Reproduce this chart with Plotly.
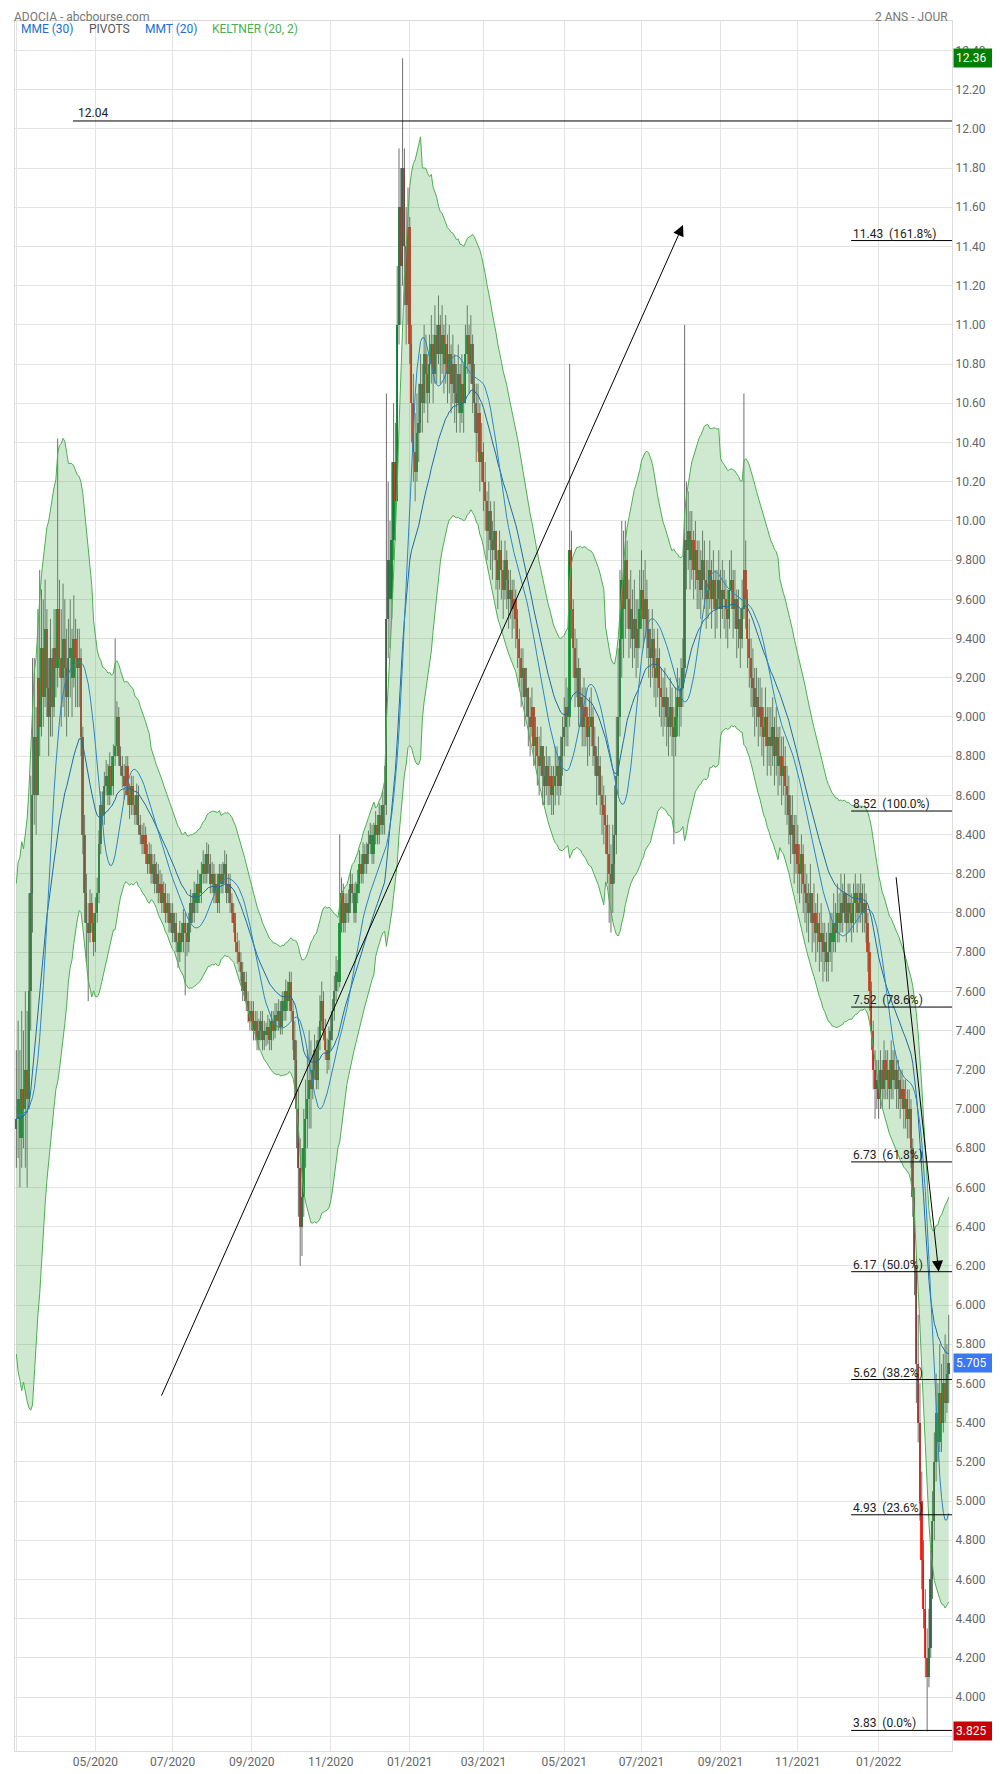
import numpy as np
import pandas as pd
import plotly.graph_objects as go

# ---------------- data (daily, one row = one week Mon..Fri) ----------------
first_open = 6.90
close = [
    6.95, 7.05, 6.85, 7.10, 7.00,
    7.20, 7.05, 7.60, 8.10, 8.60,
    8.90, 8.60, 9.20, 8.95, 9.35,
    9.10, 9.45, 9.15, 9.00, 9.30,
    9.05, 9.35, 9.25, 9.55, 9.30,
    9.20, 9.40, 9.25, 9.10, 9.30,
    9.35, 9.20, 9.40, 9.30, 9.25,
    9.30, 8.90, 8.40, 8.10, 7.95,
    7.90, 8.05, 7.95, 7.85, 8.00,
    8.10, 8.35, 8.55, 8.50, 8.65,
    8.70, 8.60, 8.75, 8.65, 8.80,
    8.85, 9.00, 8.80, 8.75, 8.70,
    8.65, 8.75, 8.60, 8.55, 8.65,
    8.55, 8.50, 8.60, 8.45, 8.40,
    8.35, 8.40, 8.30, 8.25, 8.30,
    8.20, 8.25, 8.15, 8.20, 8.10,
    8.15, 8.05, 8.10, 8.00, 8.05,
    7.95, 8.00, 7.90, 7.95, 7.85,
    7.80, 7.90, 7.85, 7.95, 7.90,
    7.85, 7.95, 8.05, 8.00, 8.10,
    8.05, 8.15, 8.10, 8.20, 8.25,
    8.20, 8.30, 8.25, 8.15, 8.20,
    8.10, 8.15, 8.05, 8.20, 8.15,
    8.20, 8.25, 8.10, 8.15, 8.05,
    8.00, 7.95, 7.85, 7.80, 7.75,
    7.70, 7.60, 7.65, 7.55, 7.50,
    7.45, 7.50, 7.40, 7.45, 7.35,
    7.40, 7.45, 7.35, 7.40, 7.38,
    7.42, 7.35, 7.45, 7.40, 7.48,
    7.45, 7.50, 7.42, 7.55, 7.50,
    7.60, 7.55, 7.65, 7.50, 7.35,
    7.25, 7.00, 6.70, 6.40, 6.55,
    6.80, 6.95, 7.05, 7.15, 7.10,
    7.20, 7.30, 7.15, 7.35, 7.45,
    7.55, 7.40, 7.30, 7.25, 7.35,
    7.40, 7.50, 7.60, 7.70, 7.65,
    7.95, 8.10, 7.95, 8.05, 8.00,
    8.05, 8.15, 8.10, 8.00, 8.10,
    8.15, 8.25, 8.20, 8.30, 8.25,
    8.30, 8.35, 8.40, 8.30, 8.40,
    8.45, 8.40, 8.50, 8.45, 8.55,
    8.55, 9.50, 9.80, 9.60, 9.90,
    10.30, 10.10, 11.00, 11.60, 11.30,
    11.80, 11.40, 11.10, 11.50, 10.90,
    10.60, 10.35, 10.25, 10.45, 10.50,
    10.70, 10.60, 10.85, 10.75, 10.65,
    10.80, 10.90, 10.75, 10.95, 10.85,
    11.00, 10.85, 10.95, 10.80, 10.90,
    10.75, 10.85, 10.70, 10.80, 10.65,
    10.60, 10.75, 10.55, 10.70, 10.60,
    10.85, 10.95, 10.80, 10.90, 10.70,
    10.60, 10.45, 10.55, 10.30, 10.35,
    10.20, 10.10, 9.95, 10.05, 9.90,
    9.85, 9.95, 9.80, 9.70, 9.85,
    9.75, 9.65, 9.80, 9.70, 9.60,
    9.65, 9.55, 9.60, 9.50, 9.40,
    9.30, 9.20, 9.25, 9.10, 9.15,
    9.00, 8.95, 9.05, 8.85, 8.90,
    8.80, 8.75, 8.85, 8.70, 8.65,
    8.75, 8.65, 8.70, 8.60, 8.65,
    8.70, 8.75, 8.65, 8.80, 8.90,
    8.95, 9.05, 9.00, 9.85, 9.55,
    9.35, 9.20, 9.25, 9.05, 9.10,
    8.95, 9.05, 9.00, 8.90, 8.95,
    9.00, 8.85, 8.80, 8.70, 8.75,
    8.60, 8.55, 8.50, 8.45, 8.30,
    8.20, 8.15, 8.25, 8.40, 8.70,
    9.00, 9.40, 9.70, 9.55, 9.80,
    9.60, 9.45, 9.55, 9.40, 9.50,
    9.35, 9.45, 9.55, 9.65, 9.50,
    9.60, 9.45, 9.35, 9.30, 9.40,
    9.25, 9.20, 9.30, 9.15, 9.10,
    9.05, 9.10, 9.00, 8.95, 9.05,
    8.95, 8.90, 9.00, 9.10, 9.05,
    9.15, 9.25, 9.90, 9.85, 9.95,
    9.80, 9.90, 9.75, 9.85, 9.70,
    9.75, 9.65, 9.80, 9.70, 9.60,
    9.65, 9.75, 9.60, 9.70, 9.55,
    9.60, 9.70, 9.55, 9.65, 9.60,
    9.55, 9.50, 9.65, 9.70, 9.55,
    9.60, 9.45, 9.50, 9.40, 9.55,
    9.75, 9.60, 9.40, 9.30, 9.20,
    9.15, 9.05, 9.10, 9.00, 9.05,
    8.95, 8.90, 9.00, 8.85, 8.90,
    8.85, 8.95, 8.80, 8.90, 8.75,
    8.80, 8.70, 8.75, 8.65, 8.60,
    8.50, 8.40, 8.45, 8.30, 8.35,
    8.25, 8.20, 8.30, 8.15, 8.10,
    8.05, 8.00, 8.10, 7.95, 8.00,
    7.90, 7.95, 7.85, 7.90, 7.80,
    7.85, 7.75, 7.80, 7.90, 7.85,
    7.95, 7.90, 8.00, 7.95, 8.05,
    8.00, 8.10, 7.95, 8.05, 8.00,
    7.95, 8.05, 8.10, 8.00, 8.05,
    8.10, 8.00, 8.05, 7.95, 7.80,
    7.60, 7.40, 7.20, 7.10, 7.15,
    7.05, 7.20, 7.10, 7.25, 7.15,
    7.20, 7.10, 7.25, 7.15, 7.20,
    7.10, 7.15, 7.05, 7.10, 7.00,
    7.05, 6.95, 7.00, 6.80, 6.55,
    6.20, 5.70, 5.40, 5.00, 4.70,
    4.45, 4.20, 4.10, 4.25, 4.60,
    4.90, 5.20, 5.45, 5.30, 5.55,
    5.40, 5.60, 5.50, 5.65, 5.705,
]
high = [
    7.30, 7.45, 7.30, 7.50, 7.40,
    7.60, 7.50, 8.10, 8.70, 9.30,
    9.30, 9.05, 9.55, 9.75, 9.65,
    9.60, 9.70, 9.55, 9.30, 9.50,
    9.35, 9.55, 9.55, 10.42, 9.70,
    9.55, 9.68, 9.60, 9.45, 9.50,
    9.60, 9.45, 9.62, 9.50, 9.45,
    9.45, 9.35, 8.95, 8.50, 8.20,
    8.05, 8.12, 8.10, 8.00, 8.08,
    8.18, 8.42, 8.62, 8.62, 8.72,
    8.78, 8.76, 8.82, 8.80, 8.86,
    9.40, 9.08, 9.05, 8.85, 8.80,
    8.76, 8.80, 8.80, 8.66, 8.70,
    8.70, 8.60, 8.66, 8.65, 8.50,
    8.45, 8.46, 8.44, 8.35, 8.36,
    8.35, 8.30, 8.30, 8.26, 8.25,
    8.22, 8.20, 8.16, 8.15, 8.10,
    8.10, 8.05, 8.05, 8.00, 8.00,
    7.90, 7.96, 7.95, 8.02, 8.00,
    7.95, 8.00, 8.12, 8.10, 8.16,
    8.15, 8.22, 8.20, 8.26, 8.32,
    8.30, 8.36, 8.35, 8.30, 8.26,
    8.25, 8.20, 8.20, 8.25, 8.25,
    8.26, 8.32, 8.30, 8.20, 8.20,
    8.10, 8.05, 8.00, 7.90, 7.86,
    7.80, 7.75, 7.70, 7.70, 7.60,
    7.55, 7.55, 7.55, 7.50, 7.50,
    7.46, 7.50, 7.50, 7.45, 7.44,
    7.48, 7.46, 7.50, 7.50, 7.54,
    7.54, 7.56, 7.55, 7.60, 7.60,
    7.66, 7.65, 7.70, 7.70, 7.55,
    7.45, 7.35, 7.10, 6.85, 6.80,
    7.00, 7.15, 7.30, 7.40, 7.35,
    7.28, 7.38, 7.35, 7.42, 7.58,
    7.65, 7.60, 7.46, 7.36, 7.42,
    7.48, 7.56, 7.68, 7.78, 7.76,
    8.40, 8.18, 8.15, 8.10, 8.10,
    8.12, 8.22, 8.20, 8.15, 8.16,
    8.22, 8.32, 8.30, 8.36, 8.35,
    8.36, 8.42, 8.46, 8.45, 8.46,
    8.52, 8.50, 8.56, 8.55, 8.62,
    8.75, 10.65, 10.20, 10.00, 10.30,
    10.60, 10.50, 11.30, 11.90, 11.80,
    12.36, 11.90, 11.60, 11.70, 11.55,
    11.00, 10.75, 10.55, 10.65, 10.70,
    10.85, 10.80, 11.00, 10.95, 10.85,
    10.95, 11.05, 10.95, 11.10, 11.00,
    11.15, 11.05, 11.10, 11.00, 11.05,
    10.95, 11.00, 10.90, 10.95, 10.85,
    10.80, 10.90, 10.80, 10.85, 10.80,
    11.00, 11.10, 11.00, 11.05, 10.95,
    10.80, 10.70, 10.70, 10.60, 10.50,
    10.40, 10.30, 10.15, 10.20, 10.10,
    10.00, 10.10, 9.95, 9.85, 9.95,
    9.90, 9.80, 9.90, 9.85, 9.75,
    9.75, 9.70, 9.70, 9.65, 9.55,
    9.45, 9.35, 9.35, 9.25, 9.25,
    9.15, 9.10, 9.15, 9.00, 9.00,
    8.95, 8.90, 8.95, 8.85, 8.80,
    8.85, 8.80, 8.80, 8.75, 8.75,
    8.85, 8.85, 8.80, 8.90, 9.00,
    9.10, 9.20, 9.15, 10.80, 9.95,
    9.60, 9.45, 9.40, 9.30, 9.25,
    9.15, 9.20, 9.15, 9.05, 9.10,
    9.15, 9.05, 8.95, 8.85, 8.90,
    8.80, 8.70, 8.65, 8.60, 8.50,
    8.45, 8.35, 8.45, 8.65, 9.00,
    9.35, 9.75, 10.00, 9.95, 10.00,
    9.90, 9.70, 9.75, 9.65, 9.70,
    9.60, 9.60, 9.75, 9.85, 9.75,
    9.80, 9.70, 9.55, 9.45, 9.55,
    9.45, 9.35, 9.45, 9.35, 9.25,
    9.20, 9.25, 9.15, 9.10, 9.20,
    9.15, 9.05, 9.15, 9.25, 9.20,
    9.30, 9.40, 11.00, 10.20, 10.15,
    10.05, 10.05, 9.95, 10.00, 9.90,
    9.90, 9.85, 9.95, 9.90, 9.80,
    9.80, 9.90, 9.80, 9.85, 9.75,
    9.75, 9.85, 9.75, 9.80, 9.75,
    9.70, 9.65, 9.80, 9.85, 9.75,
    9.75, 9.65, 9.65, 9.55, 9.70,
    10.65, 9.90, 9.65, 9.50, 9.40,
    9.35, 9.25, 9.25, 9.20, 9.20,
    9.15, 9.05, 9.15, 9.05, 9.05,
    9.05, 9.10, 9.00, 9.05, 8.95,
    8.95, 8.90, 8.90, 8.85, 8.75,
    8.70, 8.60, 8.60, 8.50, 8.50,
    8.45, 8.35, 8.40, 8.35, 8.25,
    8.20, 8.15, 8.25, 8.10, 8.15,
    8.05, 8.10, 8.00, 8.05, 7.95,
    7.95, 7.90, 7.95, 8.00, 8.00,
    8.10, 8.05, 8.15, 8.10, 8.20,
    8.15, 8.20, 8.10, 8.15, 8.15,
    8.10, 8.15, 8.20, 8.15, 8.15,
    8.20, 8.15, 8.15, 8.10, 8.00,
    7.85, 7.65, 7.45, 7.30, 7.25,
    7.25, 7.30, 7.25, 7.35, 7.30,
    7.30, 7.25, 7.35, 7.30, 7.30,
    7.25, 7.25, 7.20, 7.20, 7.15,
    7.15, 7.10, 7.10, 7.05, 6.85,
    6.60, 6.25, 5.95, 5.60, 5.15,
    4.80, 4.55, 4.35, 4.45, 4.75,
    5.05, 5.35, 5.65, 5.60, 5.80,
    5.70, 5.75, 5.85, 5.80, 5.95,
]
low = [
    6.70, 6.75, 6.60, 6.70, 6.80,
    6.70, 6.60, 7.00, 7.40, 7.90,
    8.45, 8.40, 8.60, 8.80, 8.90,
    8.95, 9.05, 9.00, 8.80, 8.90,
    8.90, 9.00, 9.10, 9.15, 9.20,
    8.95, 9.05, 9.00, 8.90, 9.00,
    9.10, 9.00, 9.15, 9.05, 9.05,
    9.05, 8.80, 8.30, 7.95, 7.75,
    7.55, 7.85, 7.90, 7.78, 7.80,
    7.95, 8.05, 8.30, 8.45, 8.45,
    8.60, 8.55, 8.55, 8.60, 8.60,
    8.75, 8.80, 8.75, 8.70, 8.64,
    8.58, 8.60, 8.55, 8.48, 8.50,
    8.50, 8.45, 8.45, 8.40, 8.35,
    8.30, 8.30, 8.25, 8.20, 8.20,
    8.15, 8.15, 8.10, 8.10, 8.05,
    8.05, 8.00, 8.00, 7.95, 7.95,
    7.90, 7.90, 7.85, 7.85, 7.80,
    7.72, 7.75, 7.80, 7.80, 7.58,
    7.78, 7.80, 7.90, 7.95, 7.95,
    8.00, 8.00, 8.05, 8.05, 8.15,
    8.15, 8.15, 8.20, 8.10, 8.10,
    8.05, 8.05, 8.00, 8.00, 8.10,
    8.10, 8.15, 8.05, 8.05, 8.00,
    7.95, 7.90, 7.80, 7.74, 7.70,
    7.65, 7.55, 7.55, 7.50, 7.44,
    7.40, 7.40, 7.35, 7.35, 7.30,
    7.30, 7.35, 7.30, 7.30, 7.32,
    7.33, 7.30, 7.30, 7.35, 7.36,
    7.40, 7.40, 7.38, 7.38, 7.45,
    7.45, 7.50, 7.50, 7.45, 7.30,
    7.05, 6.80, 6.45, 6.20, 6.25,
    6.45, 6.70, 6.80, 6.90, 6.90,
    7.05, 7.15, 7.10, 7.10, 7.30,
    7.40, 7.35, 7.25, 7.18, 7.20,
    7.30, 7.35, 7.45, 7.55, 7.60,
    7.62, 7.90, 7.90, 7.90, 7.95,
    7.95, 8.00, 8.05, 7.95, 7.95,
    8.05, 8.10, 8.15, 8.15, 8.20,
    8.20, 8.25, 8.30, 8.25, 8.25,
    8.35, 8.35, 8.35, 8.40, 8.40,
    8.40, 8.50, 9.30, 9.35, 9.50,
    9.80, 9.90, 10.10, 10.90, 11.00,
    11.20, 11.10, 10.90, 11.00, 10.80,
    10.40, 10.20, 10.10, 10.20, 10.30,
    10.45, 10.45, 10.55, 10.60, 10.50,
    10.60, 10.70, 10.60, 10.70, 10.70,
    10.80, 10.70, 10.75, 10.65, 10.70,
    10.60, 10.65, 10.55, 10.60, 10.50,
    10.45, 10.55, 10.45, 10.50, 10.45,
    10.60, 10.75, 10.65, 10.70, 10.55,
    10.45, 10.30, 10.35, 10.15, 10.20,
    10.05, 9.95, 9.80, 9.85, 9.75,
    9.70, 9.80, 9.65, 9.55, 9.65,
    9.60, 9.50, 9.60, 9.55, 9.45,
    9.50, 9.40, 9.45, 9.35, 9.25,
    9.15, 9.05, 9.10, 8.95, 9.00,
    8.85, 8.80, 8.90, 8.75, 8.75,
    8.65, 8.60, 8.70, 8.55, 8.55,
    8.60, 8.55, 8.55, 8.50, 8.50,
    8.55, 8.60, 8.55, 8.60, 8.70,
    8.80, 8.85, 8.85, 8.95, 9.40,
    9.20, 9.05, 9.10, 8.95, 8.95,
    8.85, 8.85, 8.85, 8.75, 8.80,
    8.85, 8.75, 8.70, 8.55, 8.60,
    8.50, 8.40, 8.35, 8.30, 8.15,
    7.95, 7.90, 8.00, 8.15, 8.30,
    8.60, 8.90, 9.20, 9.30, 9.40,
    9.45, 9.30, 9.35, 9.25, 9.30,
    9.20, 9.25, 9.35, 9.45, 9.35,
    9.40, 9.30, 9.20, 9.15, 9.20,
    9.10, 9.05, 9.10, 9.00, 8.95,
    8.90, 8.95, 8.85, 8.80, 8.90,
    8.80, 8.35, 8.80, 8.90, 8.90,
    8.95, 9.05, 9.20, 9.65, 9.75,
    9.65, 9.70, 9.60, 9.65, 9.55,
    9.55, 9.50, 9.60, 9.55, 9.45,
    9.50, 9.55, 9.45, 9.55, 9.40,
    9.45, 9.55, 9.40, 9.50, 9.45,
    9.40, 9.35, 9.45, 9.55, 9.40,
    9.45, 9.30, 9.35, 9.25, 9.35,
    9.50, 9.45, 9.25, 9.15, 9.05,
    9.00, 8.90, 8.95, 8.85, 8.90,
    8.80, 8.75, 8.85, 8.70, 8.75,
    8.70, 8.75, 8.65, 8.70, 8.60,
    8.65, 8.55, 8.60, 8.50, 8.45,
    8.35, 8.25, 8.30, 8.15, 8.20,
    8.10, 8.05, 8.10, 8.00, 7.95,
    7.90, 7.85, 7.95, 7.80, 7.85,
    7.75, 7.80, 7.70, 7.75, 7.65,
    7.70, 7.65, 7.65, 7.75, 7.70,
    7.80, 7.80, 7.85, 7.85, 7.90,
    7.90, 7.95, 7.85, 7.90, 7.90,
    7.85, 7.90, 7.95, 7.90, 7.95,
    7.95, 7.90, 7.90, 7.85, 7.70,
    7.50, 7.30, 7.10, 6.95, 7.00,
    6.95, 7.00, 7.00, 7.05, 7.05,
    7.05, 7.00, 7.05, 7.05, 7.10,
    7.00, 7.00, 6.95, 7.00, 6.90,
    6.90, 6.85, 6.85, 6.70, 6.45,
    6.05, 5.50, 5.30, 4.90, 4.55,
    4.35, 4.10, 3.825, 4.05, 4.20,
    4.50, 4.80, 5.10, 5.20, 5.25,
    5.25, 5.35, 5.40, 5.45, 5.50,
]

fib_levels = [11.43, 8.52, 7.52, 6.73, 6.17, 5.62, 4.93, 3.83]
fib_pcts = ["161.8%", "100.0%", "78.6%", "61.8%", "50.0%", "38.2%", "23.6%", "0.0%"]
fib_start = "2021-12-10 17:00"
hline_level = 12.04
hline_start = "2020-04-14 12:00"
trend_up = {"x0": "2020-06-22 10:00", "y0": 5.53, "x1": "2021-08-03 02:00", "y1": 11.51}
trend_dn = {"x0": "2022-01-14 15:00", "y0": 8.19, "x1": "2022-02-17 10:00", "y1": 6.17}
last_high_label = 12.36
last_close_label = 5.705
last_low_label = 3.825
x_range = ["2020-02-28 06:00", "2022-02-28 20:00"]
y_range = [3.725, 12.55]
y_tick_vals = [round(4.0 + 0.2 * i, 1) for i in range(43)]  # 4.000 .. 12.40

assert len(close) == len(high) == len(low)
dates = pd.bdate_range("2020-03-02", periods=len(close))
c = pd.Series(close, index=dates, dtype=float)
o = c.shift(1).fillna(first_open)
h = pd.Series(high, index=dates, dtype=float)
l = pd.Series(low, index=dates, dtype=float)
h = pd.concat([h, o, c], axis=1).max(axis=1)
l = pd.concat([l, o, c], axis=1).min(axis=1)
body_hi = pd.concat([o, c], axis=1).max(axis=1)
body_lo = pd.concat([o, c], axis=1).min(axis=1)

# indicators
ema30 = c.ewm(span=30, adjust=False).mean()
tma20 = c.rolling(10, min_periods=1).mean().rolling(11, min_periods=1).mean()
mid = c.ewm(span=20, adjust=False).mean()
pc = c.shift(1).fillna(first_open)
tr = pd.concat([h - l, (h - pc).abs(), (l - pc).abs()], axis=1).max(axis=1)
atr = tr.rolling(20, min_periods=1).mean()
kup = mid + 2 * atr
klo = mid - 2 * atr

FONT = "Roboto"
GREEN = "#0f9d38"
RED = "#ff2f24"
WICK = "#4a4a4a"

fig = go.Figure()
# wicks
wx, wy = [], []
for d, hi, lo in zip(dates, h, l):
    wx += [d, d, None]
    wy += [lo, hi, None]
fig.add_trace(go.Scatter(x=wx, y=wy, mode="lines", line=dict(color=WICK, width=0.8),
                         hoverinfo="skip", showlegend=False, connectgaps=False))
# bodies
body_col = [GREEN if cc >= oo else RED for oo, cc in zip(o, c)]
fig.add_trace(go.Bar(x=dates, y=(body_hi - body_lo), base=body_lo,
                     width=1.0 * 86400000, marker=dict(color=body_col, line=dict(width=0)),
                     hoverinfo="skip", showlegend=False))
# Keltner band over the candles
fig.add_trace(go.Scatter(x=dates, y=klo, mode="lines",
                         line=dict(color="#4caf50", width=1), hoverinfo="skip", showlegend=False))
fig.add_trace(go.Scatter(x=dates, y=kup, mode="lines", fill="tonexty",
                         fillcolor="rgba(76,175,80,0.27)",
                         line=dict(color="#4caf50", width=1), hoverinfo="skip", showlegend=False))
# moving averages
fig.add_trace(go.Scatter(x=dates, y=ema30, mode="lines",
                         line=dict(color="#1f6aa8", width=1), hoverinfo="skip", showlegend=False))
fig.add_trace(go.Scatter(x=dates, y=tma20, mode="lines",
                         line=dict(color="#2b86c6", width=1), hoverinfo="skip", showlegend=False))

# horizontal 12.04 line
fig.add_shape(type="line", xref="x", yref="y", x0=hline_start, x1=x_range[1],
              y0=hline_level, y1=hline_level, line=dict(color="black", width=1))
fig.add_annotation(x=hline_start, y=hline_level, xref="x", yref="y", text=f"{hline_level:.2f}",
                   showarrow=False, xanchor="left", yanchor="bottom", xshift=3, yshift=-1,
                   font=dict(family=FONT, size=12, color="#222"))

# fibonacci levels
for lv, pct in zip(fib_levels, fib_pcts):
    fig.add_shape(type="line", xref="x", yref="y", x0=fib_start, x1=x_range[1],
                  y0=lv, y1=lv, line=dict(color="black", width=1))
    fig.add_annotation(x=fib_start, y=lv, xref="x", yref="y",
                       text=f"{lv:.2f}\u00a0\u00a0({pct})", showarrow=False,
                       xanchor="left", yanchor="bottom", yshift=-2,
                       font=dict(family=FONT, size=12, color="#222"))

# trend arrows
for tl in (trend_up, trend_dn):
    fig.add_annotation(x=tl["x1"], y=tl["y1"], ax=tl["x0"], ay=tl["y0"],
                       xref="x", yref="y", axref="x", ayref="y", text="",
                       showarrow=True, arrowhead=2, arrowsize=2.2, arrowwidth=1,
                       arrowcolor="black", standoff=0)

# right-side price boxes
for val, bg, fmt in ((last_high_label, "#008000", "{:.2f}"),
                     (last_close_label, "#3b78f2", "{:.3f}"),
                     (last_low_label, "#c40000", "{:.3f}")):
    fig.add_annotation(x=1, y=val, xref="paper", yref="y", text=fmt.format(val),
                       showarrow=False, xanchor="left", yanchor="middle", xshift=1,
                       width=42, align="left", bgcolor=bg, borderpad=2,
                       font=dict(family=FONT, size=12, color="white"))

# header texts (kept inside the figure's top margin)
fig.add_annotation(x=-0.0032, y=1.0075, xref="paper", yref="paper", text="ADOCIA - abcbourse.com",
                   showarrow=False, xanchor="left", yanchor="top",
                   font=dict(family=FONT, size=12, color="#777"))
fig.add_annotation(x=0.9979, y=1.0075, xref="paper", yref="paper", text="2 ANS - JOUR",
                   showarrow=False, xanchor="right", yanchor="top",
                   font=dict(family=FONT, size=12, color="#777"))
legend_items = [("MME (30)", "#1a6fd1", 0.0043), ("PIVOTS", "#555", 0.0769),
                ("MMT (20)", "#1a6fd1", 0.1366), ("KELTNER (20, 2)", "#4caf50", 0.2081)]
for txt, col, px in legend_items:
    fig.add_annotation(x=px, y=0.9954, xref="paper", yref="paper", text=txt, showarrow=False,
                       xanchor="left", yanchor="middle", font=dict(family=FONT, size=12, color=col))

# the page body has an 8px margin: plot area sits at page x 15..952, y 21..1751
fig.update_layout(
    width=1000, height=1774,
    margin=dict(l=7, r=56, t=13, b=31, autoexpand=False),
    paper_bgcolor="white", plot_bgcolor="white",
    font=dict(family=FONT, size=12, color="#666"),
    showlegend=False, hovermode=False, bargap=0,
    xaxis=dict(type="date", range=x_range, rangeslider=dict(visible=False),
               rangebreaks=[dict(bounds=["sat", "mon"])],
               tick0="2020-01-01", dtick="M2", tickformat="%m/%Y",
               showgrid=True, gridcolor="#e3e3e3", gridwidth=1,
               showline=True, linecolor="#dcdcdc", mirror=True, ticks="",
               tickfont=dict(family=FONT, size=12, color="#666"), zeroline=False),
    yaxis=dict(side="right", range=y_range, tickmode="array", tickvals=y_tick_vals,
               tickformat=".4r",
               showgrid=True, gridcolor="#e3e3e3", gridwidth=1,
               minor=dict(dtick=0.2, tick0=0, showgrid=True, gridcolor="#e3e3e3", gridwidth=1),
               showline=True, linecolor="#dcdcdc", mirror=True, ticks="",
               tickfont=dict(family=FONT, size=12, color="#666"), zeroline=False),
)

fig.write_html("out.html")
